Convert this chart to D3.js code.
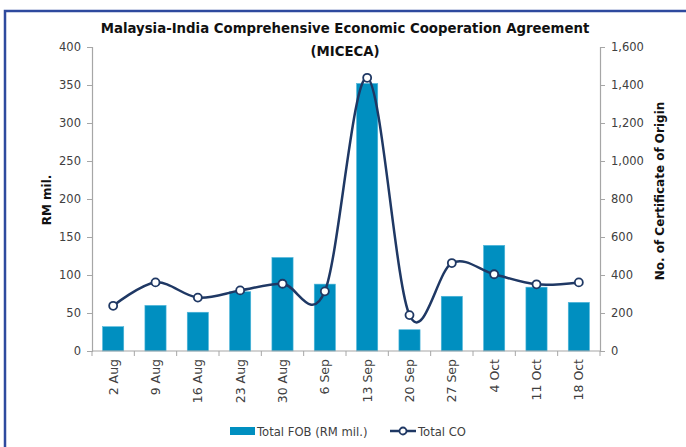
<!DOCTYPE html>
<html>
<head>
<meta charset="utf-8">
<script src="https://cdn.jsdelivr.net/npm/d3@7"></script>
<style>
  body { margin: 0; background: #fff; }
  text { font-family: "DejaVu Sans", sans-serif; }
</style>
</head>
<body>
<div id="chart"></div>
<script>
// data
const weeks = ["2 Aug", "9 Aug", "16 Aug", "23 Aug", "30 Aug", "6 Sep", "13 Sep", "20 Sep", "27 Sep", "4 Oct", "11 Oct", "18 Oct"];
const totalFob = [32, 60, 51, 78, 123, 88, 352, 28, 72, 139, 84, 64];
const totalCo = [238, 361, 281, 319, 354, 314, 1438, 189, 463, 404, 351, 361];
const leftTicks = [0, 50, 100, 150, 200, 250, 300, 350, 400];
const rightTicks = [0, 200, 400, 600, 800, 1000, 1200, 1400, 1600];

const W = 686, H = 447;
const plotL = 92, plotR = 600, plotT = 47, plotB = 351;

const svg = d3.select("#chart").append("svg")
    .attr("width", W)
    .attr("height", H);

// blue frame, only top and left sides are inside the crop
svg.append("rect")
    .attr("x", 5).attr("y", 11)
    .attr("width", W + 20).attr("height", H + 20)
    .attr("fill", "none")
    .attr("stroke", "#2E4A9E")
    .attr("stroke-width", 2.5);

const x = d3.scaleBand().domain(weeks).range([plotL, plotR]).paddingInner(0.5).paddingOuter(0.25);
const yL = d3.scaleLinear().domain([0, 400]).range([plotB, plotT]);
const yR = d3.scaleLinear().domain([0, 1600]).range([plotB, plotT]);

// left axis
const axL = svg.append("g")
    .attr("transform", `translate(${plotL},0)`)
    .call(d3.axisLeft(yL).tickValues(leftTicks).tickSize(5).tickPadding(6));
// right axis
const axR = svg.append("g")
    .attr("transform", `translate(${plotR},0)`)
    .call(d3.axisRight(yR).tickValues(rightTicks).tickSize(5).tickPadding(6).tickFormat(d3.format(",")));

[axL, axR].forEach(ax => {
    ax.select(".domain").attr("stroke", "#a6a6a6").attr("stroke-width", 1.2);
    ax.selectAll(".tick line").attr("stroke", "#a6a6a6");
    ax.selectAll(".tick text")
        .attr("fill", "#404040")
        .attr("font-size", "11.5px")
        .attr("font-family", "DejaVu Sans");
});

// bars
svg.append("g").selectAll("rect")
    .data(weeks)
    .enter()
    .append("rect")
    .attr("x", d => x(d))
    .attr("width", x.bandwidth())
    .attr("y", (d, i) => yL(totalFob[i]))
    .attr("height", (d, i) => plotB - yL(totalFob[i]))
    .attr("fill", "#008FC0")
    .attr("stroke", "#4FB6DA")
    .attr("stroke-width", 0.6);

// bottom axis, ticks sit between categories
const bx = svg.append("g").attr("transform", `translate(0,${plotB})`);
bx.append("line")
    .attr("x1", plotL).attr("x2", plotR)
    .attr("stroke", "#a6a6a6").attr("stroke-width", 1.2);
bx.selectAll("line.tk")
    .data(d3.range(weeks.length + 1))
    .enter()
    .append("line")
    .attr("class", "tk")
    .attr("x1", i => plotL + i * (plotR - plotL) / weeks.length)
    .attr("x2", i => plotL + i * (plotR - plotL) / weeks.length)
    .attr("y1", 0).attr("y2", 5)
    .attr("stroke", "#a6a6a6");
bx.selectAll("text")
    .data(weeks)
    .enter()
    .append("text")
    .attr("transform", d => `translate(${x(d) + x.bandwidth() / 2 + 4.5},8) rotate(-90)`)
    .attr("text-anchor", "end")
    .attr("fill", "#404040")
    .attr("font-size", "12.5px")
    .text(d => d);

// CO line (smoothed like the spreadsheet)
const line = d3.line()
    .x((d, i) => x(weeks[i]) + x.bandwidth() / 2)
    .y(d => yR(d))
    .curve(d3.curveCatmullRom.alpha(0));

svg.append("path")
    .datum(totalCo)
    .attr("d", line)
    .attr("fill", "none")
    .attr("stroke", "#1F3864")
    .attr("stroke-width", 2.5);

svg.append("g").selectAll("circle")
    .data(totalCo)
    .enter()
    .append("circle")
    .attr("cx", (d, i) => x(weeks[i]) + x.bandwidth() / 2)
    .attr("cy", d => yR(d))
    .attr("r", 4)
    .attr("fill", "#fff")
    .attr("stroke", "#1F3864")
    .attr("stroke-width", 1.8);

// titles
svg.append("text")
    .attr("x", 345).attr("y", 33)
    .attr("text-anchor", "middle")
    .attr("font-weight", "bold")
    .attr("font-size", "13.3px")
    .attr("fill", "#111")
    .text("Malaysia-India Comprehensive Economic Cooperation Agreement");
svg.append("text")
    .attr("x", 345).attr("y", 56)
    .attr("text-anchor", "middle")
    .attr("font-weight", "bold")
    .attr("font-size", "13.3px")
    .attr("fill", "#111")
    .text("(MICECA)");

svg.append("text")
    .attr("transform", "translate(51,200) rotate(-90)")
    .attr("text-anchor", "middle")
    .attr("font-family", "Liberation Sans")
    .attr("font-weight", "bold")
    .attr("font-size", "12px")
    .attr("fill", "#111")
    .text("RM mil.");
svg.append("text")
    .attr("transform", "translate(664,191) rotate(-90)")
    .attr("text-anchor", "middle")
    .attr("font-family", "Liberation Sans")
    .attr("font-weight", "bold")
    .attr("font-size", "12px")
    .attr("fill", "#111")
    .text("No. of Certificate of Origin");

// legend
const lg = svg.append("g").attr("transform", "translate(0,431)");
lg.append("rect")
    .attr("x", 230).attr("y", -4)
    .attr("width", 25).attr("height", 8)
    .attr("fill", "#008FC0");
lg.append("text")
    .attr("x", 257).attr("y", 4.5)
    .attr("font-size", "11.6px")
    .attr("fill", "#404040")
    .text("Total FOB (RM mil.)");
lg.append("line")
    .attr("x1", 390).attr("x2", 416)
    .attr("stroke", "#1F3864").attr("stroke-width", 2.5);
lg.append("circle")
    .attr("cx", 403).attr("r", 3.5)
    .attr("fill", "#fff").attr("stroke", "#1F3864").attr("stroke-width", 1.8);
lg.append("text")
    .attr("x", 418).attr("y", 4.5)
    .attr("font-size", "11.6px")
    .attr("fill", "#404040")
    .text("Total CO");
</script>
</body>
</html>
